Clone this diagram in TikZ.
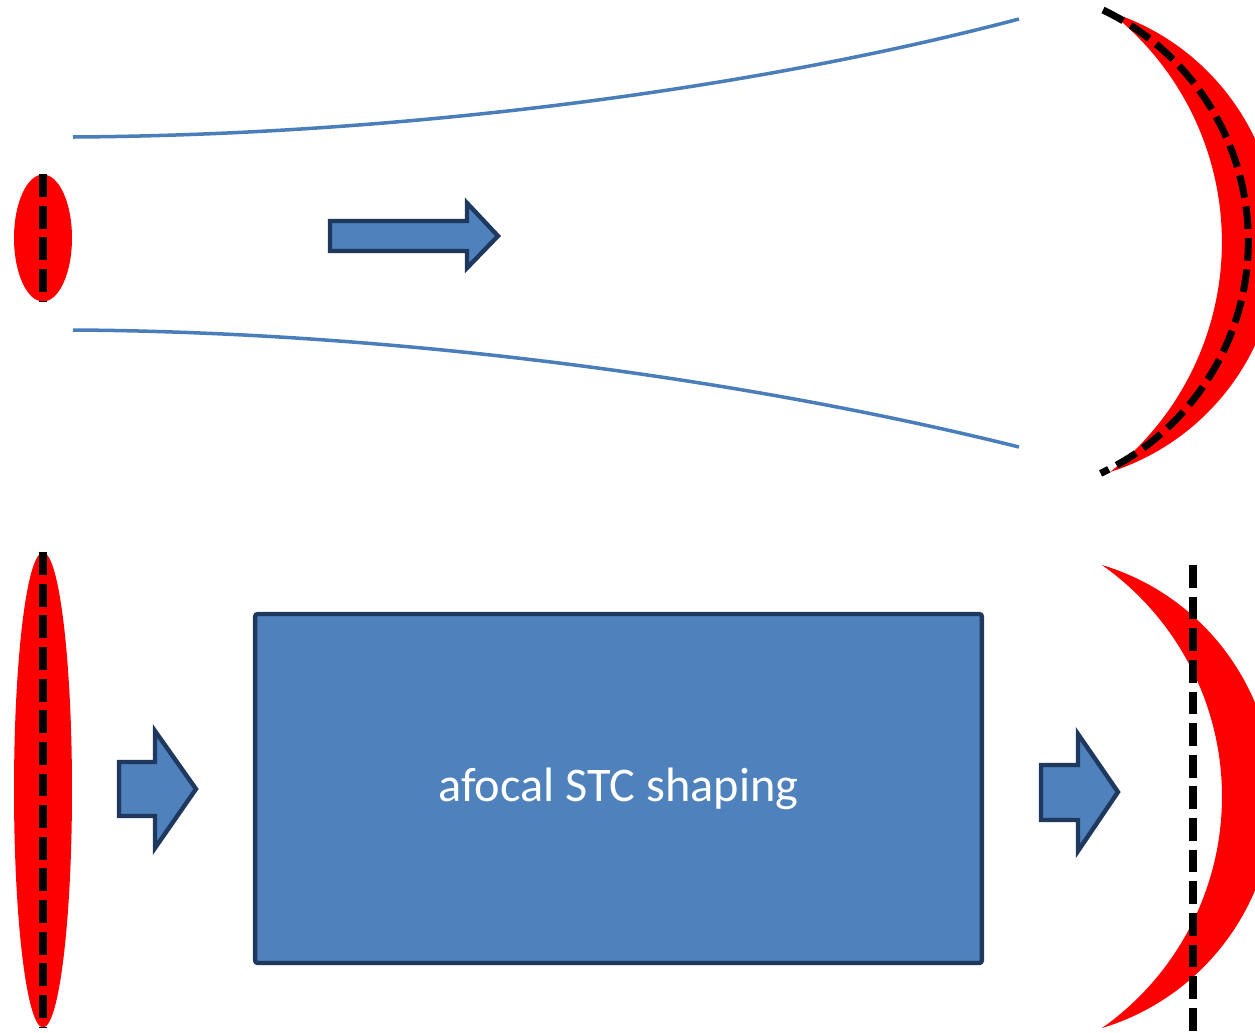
\documentclass[tikz,border=0pt]{standalone}
\usepackage{fontspec}
\setmainfont{Carlito}
\usetikzlibrary{shapes.geometric}

\definecolor{officeblue}{RGB}{79,129,189}
\definecolor{officenavy}{RGB}{31,56,93}
\definecolor{beamline}{RGB}{74,126,187}

\begin{document}
\begin{tikzpicture}[
  x=0.02cm, y=-0.02cm,
  pulse/.style      = {ellipse, fill=red, inner sep=0pt, minimum width=1.16cm},
  front/.style      = {fill=red},
  cut/.style        = {black, line width=4pt, dash pattern=on 13pt off 5pt},
  beam/.style       = {beamline, line width=2pt},
  blockarrow/.style = {fill=officeblue, draw=officenavy, line width=2.5pt, line join=miter},
  shaperbox/.style  = {fill=officeblue, draw=officenavy, line width=2.5pt, rounded corners=1.5pt,
                       inner sep=0pt, minimum width=14.54cm, minimum height=6.98cm,
                       text=white, font=\fontsize{27.5}{32}\selectfont},
]
  \useasboundingbox (0,0) rectangle (1255,1032);
  \clip (0,0) rectangle (1255,1032);

  % upper row: free propagation
  \node[pulse, minimum height=2.54cm] (pulseA) at (43,238) {};
  \draw[cut] (pulseA.north) -- (pulseA.south);

  \draw[beam] (73,137) .. controls (400,135) and (750,90) .. (1019,19);
  \draw[beam] (73,330) .. controls (400,332) and (750,380) .. (1019,447);

  \draw[blockarrow] (330,221) -- (467,221) -- (467,203) -- (498,236) -- (467,268)
    -- (467,251) -- (330,251) -- cycle;

  \fill[front] (1110,12) arc[start angle=-72.35, end angle=72.35, radius=241.4]
    arc[start angle=51.9, end angle=-51.9, radius=292.2] -- cycle;
  \draw[cut] (1103,10) arc[start angle=-64.3, end angle=64.9, radius=256.5];

  % lower row: with the afocal shaper
  \node[pulse, minimum height=9.5cm] (pulseB) at (43,790) {};
  \draw[cut] (pulseB.north) -- (pulseB.south);

  \draw[blockarrow] (119,762) -- (155,762) -- (155,731) -- (196,789) -- (155,848)
    -- (155,816) -- (119,816) -- cycle;

  \node[shaperbox] (shaper) at (618.5,788.5) {\raisebox{-4pt}{afocal STC shaping}};

  \draw[blockarrow] (1041,765) -- (1078,765) -- (1078,734) -- (1118,792) -- (1078,851)
    -- (1078,820) -- (1041,820) -- cycle;

  \fill[front] (1102,565) arc[start angle=-73.2, end angle=73.2, radius=241.85]
    arc[start angle=54.8, end angle=-54.8, radius=283.3] -- cycle;
  \coordinate (cutTop) at (1193,565);
  \coordinate (cutBot) at (1193,1032);
  \draw[cut] (cutTop) -- (cutBot);
\end{tikzpicture}
\end{document}
